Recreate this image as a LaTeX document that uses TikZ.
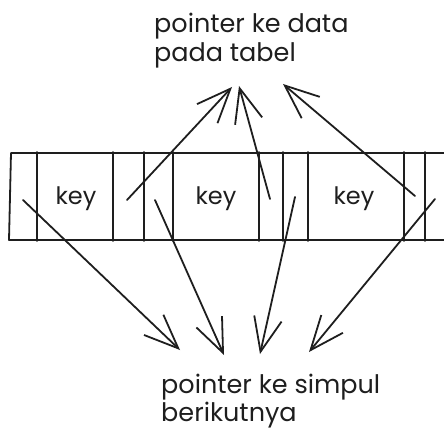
\documentclass[tikz,border=0pt]{standalone}
\usepackage{fontspec}
\setmainfont{Poppins}
\usetikzlibrary{arrows.meta}
\definecolor{ink}{HTML}{1E1E1E}
\begin{document}
\begin{tikzpicture}[x=1pt,y=-1pt,
  stroke/.style={draw=ink, line width=1.8pt, line cap=round, line join=round},
  ptr/.style={stroke, -{Straight Barb[length=34pt,width=28pt]}},
  caption/.style={font=\fontsize{25.5}{30}\selectfont, anchor=base west, inner sep=0pt, text=ink},
  keytext/.style={font=\fontsize{24}{28}\selectfont, anchor=base, inner sep=0pt, text=ink}]
\useasboundingbox (0,0) rectangle (444,430);

% the array of nodes: outer frame (running off to the right)
\draw[stroke] (446,153) -- (11,153) -- (9,240) -- (446,240);
% cell dividers
\foreach \x in {37,113,144,173,259,283,308,404,425}
  \draw[stroke] (\x,152) -- (\x,241);

% key fields
\node[keytext] (k1) at (76,205) {key};
\node[keytext] (k2) at (216,205) {key};
\node[keytext] (k3) at (354,205) {key};

% captions
\node[caption] (dataA) at (154,33) {pointer ke data};
\node[caption] (dataB) at (154,62) {pada tabel};
\node[caption] (nextA) at (161,393) {pointer ke simpul};
\node[caption] (nextB) at (161,421) {berikutnya};

% pointer origins inside the cells
\coordinate (s1) at (23,200);
\coordinate (s2) at (127,200);
\coordinate (s3) at (155,200);
\coordinate (s4) at (270,199);
\coordinate (s5) at (295,197);
\coordinate (s6) at (415,196);
\coordinate (s7) at (435,199);

% pointer targets
\coordinate (t1) at (180,350);
\coordinate (t2) at (232,87);
\coordinate (t3) at (224,355);
\coordinate (t4) at (239,86);
\coordinate (t5) at (260,354);
\coordinate (t6) at (283,84);
\coordinate (t7) at (309,352);

% data pointers (up) and next-node pointers (down)
\draw[ptr] (s2) -- (t2);
\draw[ptr] (s4) -- (t4);
\draw[ptr] (s6) -- (t6);
\draw[ptr] (s1) -- (t1);
\draw[ptr] (s3) -- (t3);
\draw[ptr] (s5) -- (t5);
\draw[ptr] (s7) -- (t7);
\end{tikzpicture}
\end{document}
